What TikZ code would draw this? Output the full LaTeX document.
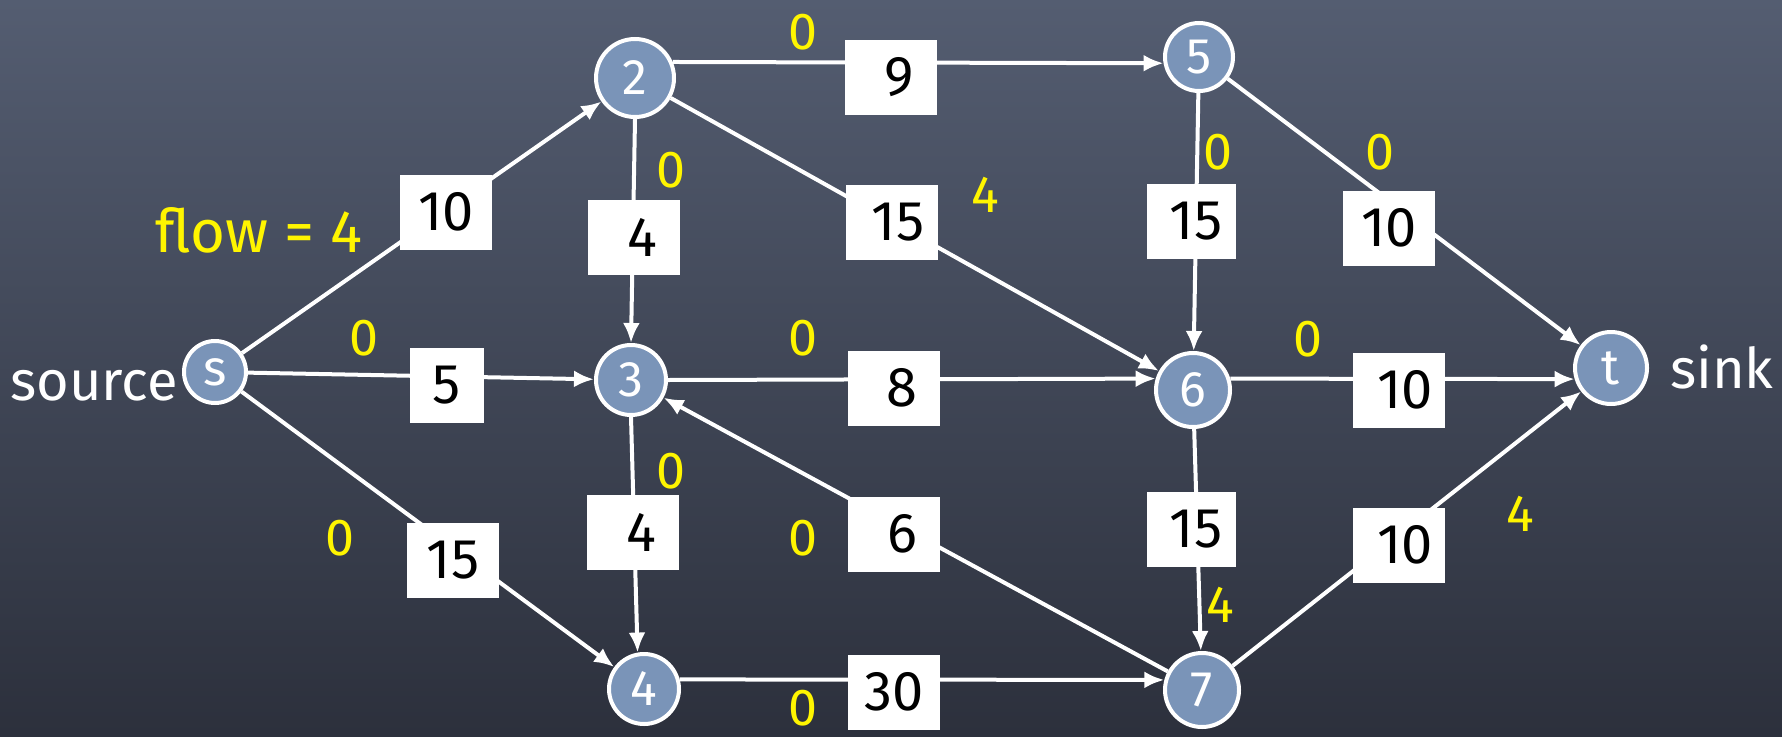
\documentclass[tikz,border=0pt]{standalone}
\usepackage{fontspec}
\setmainfont{Fira Sans}
\usetikzlibrary{arrows.meta}
\definecolor{nodefill}{RGB}{122,148,184}
\definecolor{chalktop}{RGB}{84,93,113}
\definecolor{chalkbot}{RGB}{44,48,60}
\definecolor{flowyellow}{RGB}{255,245,0}
\tikzset{
  vert/.style={circle,draw=white,line width=4pt,fill=nodefill,text=white,inner sep=0pt,font=\fontsize{50}{50}\selectfont},
  capbox/.style={rectangle,fill=white,text=black,minimum width=92pt,minimum height=75pt,inner sep=0pt,font=\fontsize{56}{56}\selectfont},
  flowlbl/.style={text=flowyellow,inner sep=0pt,font=\fontsize{52}{52}\selectfont},
  edge/.style={draw=white,line width=4pt,-{Latex[length=20pt,width=17pt]}},
  plainlbl/.style={text=white,inner sep=0pt,font=\fontsize{56}{56}\selectfont}
}
\begin{document}
\begin{tikzpicture}[x=1pt,y=-1pt]
\shade[top color=chalktop,bottom color=chalkbot] (0,0) rectangle (1782,736);
\useasboundingbox (0,0) rectangle (1782,736);
% vertices
\node[vert,minimum size=62pt] (s) at (215,372) {s};
\node[vert,minimum size=78pt] (2) at (635,78) {2};
\node[vert,minimum size=70pt] (3) at (631,380) {3};
\node[vert,minimum size=70pt] (4) at (644,689) {4};
\node[vert,minimum size=68pt] (5) at (1199,57) {5};
\node[vert,minimum size=74pt] (6) at (1193,390) {6};
\node[vert,minimum size=74pt] (7) at (1202,690) {7};
\node[vert,minimum size=72pt] (t) at (1611,368) {t};
% edges
\draw[edge] (s) -- (2);
\draw[edge] (s) -- (3);
\draw[edge] (s) -- (4);
\draw[edge] (2.south) -- (3.north);
\draw[edge] (2.23) -- (5.190);
\draw[edge] (2) -- (6);
\draw[edge] (5) -- (6);
\draw[edge] (5) -- (t);
\draw[edge] (3.east) -- (6.163);
\draw[edge] (6.17) -- (t.197);
\draw[edge] (3.south) -- (4.100);
\draw[edge] (7) -- (3);
\draw[edge] (6) -- (7);
\draw[edge] (7) -- (t);
\draw[edge] (4.15) -- (7.165);
% capacity boxes
\node[capbox] (c-s2) at (446,212) {10};
\node[capbox,minimum width=74pt] (c-s3) at (447,385) {5};
\node[capbox] (c-s4) at (453,560) {15};
\node[capbox] (c-23) at (634,237) {\hspace{16pt}4};
\node[capbox] (c-25) at (891,77) {\hspace{16pt}9};
\node[capbox] (c-26) at (892,222) {\hspace{12pt}15};
\node[capbox,minimum width=89pt] (c-56) at (1191,221) {\hspace{10pt}15};
\node[capbox] (c-5t) at (1389,228) {10};
\node[capbox] (c-36) at (894,388) {\hspace{16pt}8};
\node[capbox] (c-6t) at (1399,390) {\hspace{12pt}10};
\node[capbox] (c-34) at (633,532) {\hspace{16pt}4};
\node[capbox] (c-73) at (894,534) {\hspace{16pt}6};
\node[capbox,minimum width=89pt] (c-67) at (1191,529) {\hspace{10pt}15};
\node[capbox] (c-7t) at (1399,545) {\hspace{12pt}10};
\node[capbox] (c-47) at (894,692) {30};
% flow labels
\node[flowlbl,font=\fontsize{60}{60}\selectfont] (f-s2) at (259,230) {flow = 4};
\node[flowlbl] (f-s3) at (364,338) {0};
\node[flowlbl] (f-s4) at (340,538) {0};
\node[flowlbl] (f-25) at (803,32) {0};
\node[flowlbl] (f-23) at (671,170) {0};
\node[flowlbl] (f-26) at (985,195) {4};
\node[flowlbl] (f-36) at (803,338) {0};
\node[flowlbl] (f-56) at (1218,152) {0};
\node[flowlbl] (f-5t) at (1380,152) {0};
\node[flowlbl] (f-6t) at (1308,339) {0};
\node[flowlbl] (f-34) at (671,471) {0};
\node[flowlbl] (f-73) at (803,538) {0};
\node[flowlbl] (f-47) at (803,708) {0};
\node[flowlbl] (f-67) at (1220,605) {4};
\node[flowlbl] (f-7t) at (1520,514) {4};
% source / sink
\node[plainlbl,anchor=base east] (src) at (178,400) {source};
\node[plainlbl,anchor=base west] (snk) at (1670,388) {sink};
\end{tikzpicture}
\end{document}
